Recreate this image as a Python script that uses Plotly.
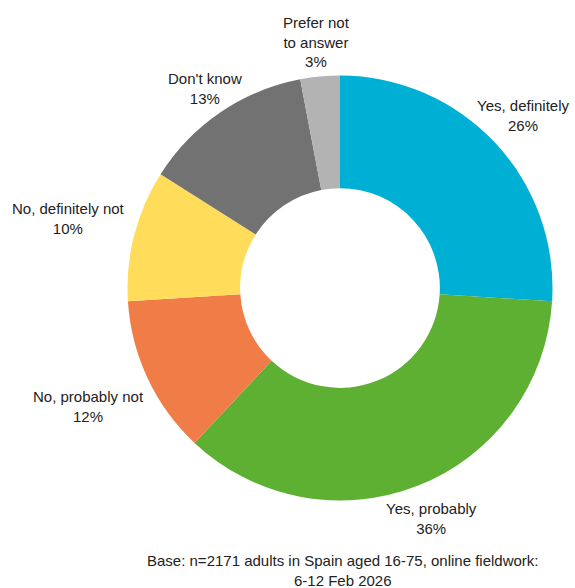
import math
import plotly.graph_objects as go

# Survey answers, in clockwise order from 12 o'clock
answers = ["Yes, definitely", "Yes, probably", "No, probably not",
           "No, definitely not", "Don't know", "Prefer not<br>to answer"]
shares = [26, 36, 12, 10, 13, 3]
colours = ["#00AFD4", "#5DB031", "#F07D48", "#FFDD5A", "#727272", "#B3B3B3"]

footer = "Base: n=2171 adults in Spain aged 16-75, online fieldwork:<br>6-12 Feb 2026"

W, H = 575, 588
cx, cy, r = 340, 288, 212.5  # pixel centre and outer radius of the ring

# distance of each label from the ring centre, in pixels
label_dist = [252, 248, 278, 280, 241, 247]

FONT = "Liberation Sans, Arial, sans-serif"
INK = "#222222"

fig = go.Figure(go.Pie(
    labels=answers,
    values=shares,
    textinfo="none",
    hoverinfo="label+percent",
    sort=False,
    direction="clockwise",
    rotation=0,
    hole=0.47,
    marker=dict(colors=colours, line=dict(width=0)),
    domain=dict(x=[(cx - r) / W, (cx + r) / W],
                y=[(H - cy - r) / H, (H - cy + r) / H]),
    showlegend=False,
))

# outside labels, placed at the middle angle of each slice
total = sum(shares)
start = 0.0
for name, v, d in zip(answers, shares, label_dist):
    mid = (start + v / 2) / total * 360
    start += v
    a = math.radians(mid)
    px = cx + d * math.sin(a)
    py = cy - d * math.cos(a)
    fig.add_annotation(
        text=f"{name}<br>{v}%", x=px / W, y=1 - py / H,
        xref="paper", yref="paper", xanchor="center", yanchor="middle",
        showarrow=False, align="center",
        font=dict(family=FONT, size=15, color=INK),
    )

fig.add_annotation(
    text=footer, x=343 / W, y=0, xref="paper", yref="paper",
    xanchor="center", yanchor="bottom", yshift=-3, showarrow=False,
    font=dict(family=FONT, size=15, color=INK),
)

fig.update_layout(
    width=W, height=H,
    margin=dict(l=0, r=0, t=0, b=0),
    paper_bgcolor="white", plot_bgcolor="white",
)

fig.write_html("out.html")
